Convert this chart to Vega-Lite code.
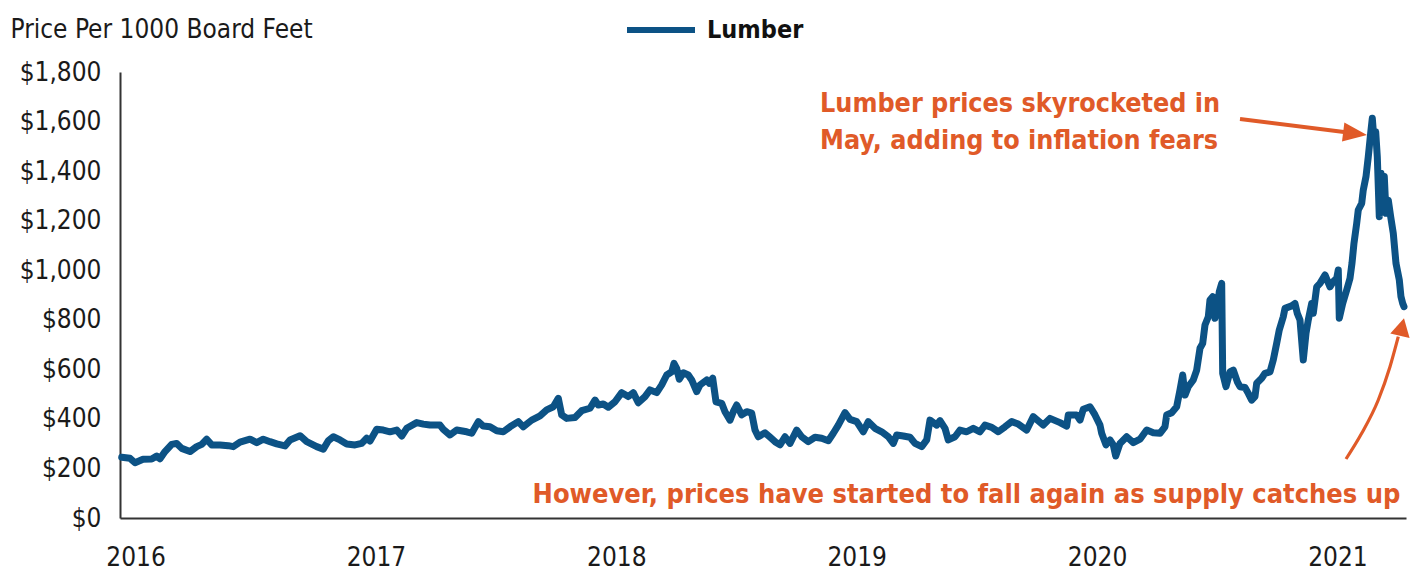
{
  "$schema": "https://vega.github.io/schema/vega-lite/v6.json",
  "autosize": {"type": "none"},
  "padding": {"left": 120, "top": 72, "right": 10, "bottom": 53},
  "width": 1286,
  "height": 446,
  "background": "white",
  "config": {
    "view": {"stroke": null},
    "font": "DejaVu Sans Condensed, sans-serif"
  },
  "datasets": {
    "lumber": [
      {"year": 2015.9426, "price": 245}, {"year": 2015.9771, "price": 241}, {"year": 2015.9979, "price": 223}, {"year": 2016.0312, "price": 237},
      {"year": 2016.0674, "price": 238}, {"year": 2016.0882, "price": 250}, {"year": 2016.1019, "price": 239}, {"year": 2016.1227, "price": 268},
      {"year": 2016.1506, "price": 297}, {"year": 2016.1714, "price": 301}, {"year": 2016.1922, "price": 281}, {"year": 2016.2267, "price": 268},
      {"year": 2016.2546, "price": 288}, {"year": 2016.2754, "price": 297}, {"year": 2016.2962, "price": 318}, {"year": 2016.3170, "price": 295},
      {"year": 2016.3515, "price": 295}, {"year": 2016.3860, "price": 292}, {"year": 2016.4068, "price": 288}, {"year": 2016.4347, "price": 306},
      {"year": 2016.4763, "price": 318}, {"year": 2016.5042, "price": 304}, {"year": 2016.5316, "price": 318}, {"year": 2016.5595, "price": 308},
      {"year": 2016.5874, "price": 299}, {"year": 2016.6219, "price": 291}, {"year": 2016.6427, "price": 315}, {"year": 2016.6843, "price": 332},
      {"year": 2016.7121, "price": 308}, {"year": 2016.7537, "price": 288}, {"year": 2016.7812, "price": 278}, {"year": 2016.8020, "price": 312},
      {"year": 2016.8228, "price": 328}, {"year": 2016.8507, "price": 315}, {"year": 2016.8785, "price": 299}, {"year": 2016.9131, "price": 295},
      {"year": 2016.9409, "price": 301}, {"year": 2016.9617, "price": 322}, {"year": 2016.9755, "price": 311}, {"year": 2017.0033, "price": 358},
      {"year": 2017.0308, "price": 355}, {"year": 2017.0586, "price": 348}, {"year": 2017.0865, "price": 355}, {"year": 2017.1073, "price": 331},
      {"year": 2017.1281, "price": 362}, {"year": 2017.1697, "price": 385}, {"year": 2017.1972, "price": 379}, {"year": 2017.2250, "price": 375},
      {"year": 2017.2666, "price": 375}, {"year": 2017.2804, "price": 358}, {"year": 2017.3082, "price": 335}, {"year": 2017.3361, "price": 355},
      {"year": 2017.3777, "price": 348}, {"year": 2017.3985, "price": 342}, {"year": 2017.4260, "price": 389}, {"year": 2017.4468, "price": 371},
      {"year": 2017.4746, "price": 368}, {"year": 2017.5025, "price": 352}, {"year": 2017.5300, "price": 348}, {"year": 2017.5578, "price": 368},
      {"year": 2017.5923, "price": 389}, {"year": 2017.6131, "price": 368}, {"year": 2017.6481, "price": 395}, {"year": 2017.6826, "price": 412},
      {"year": 2017.7105, "price": 436}, {"year": 2017.7379, "price": 449}, {"year": 2017.7587, "price": 483}, {"year": 2017.7729, "price": 416},
      {"year": 2017.7937, "price": 402}, {"year": 2017.8282, "price": 406}, {"year": 2017.8561, "price": 433}, {"year": 2017.8906, "price": 443},
      {"year": 2017.9114, "price": 476}, {"year": 2017.9251, "price": 456}, {"year": 2017.9459, "price": 460}, {"year": 2017.9667, "price": 447},
      {"year": 2017.9946, "price": 469}, {"year": 2018.0225, "price": 506}, {"year": 2018.0499, "price": 490}, {"year": 2018.0707, "price": 506},
      {"year": 2018.0915, "price": 465}, {"year": 2018.1194, "price": 490}, {"year": 2018.1402, "price": 517}, {"year": 2018.1681, "price": 506},
      {"year": 2018.1889, "price": 537}, {"year": 2018.2097, "price": 577}, {"year": 2018.2305, "price": 590}, {"year": 2018.2400, "price": 624},
      {"year": 2018.2512, "price": 604}, {"year": 2018.2621, "price": 560}, {"year": 2018.2787, "price": 586}, {"year": 2018.2995, "price": 577},
      {"year": 2018.3136, "price": 557}, {"year": 2018.3344, "price": 510}, {"year": 2018.3481, "price": 537}, {"year": 2018.3760, "price": 557},
      {"year": 2018.3869, "price": 544}, {"year": 2018.4010, "price": 564}, {"year": 2018.4147, "price": 469}, {"year": 2018.4384, "price": 463},
      {"year": 2018.4522, "price": 429}, {"year": 2018.4730, "price": 395}, {"year": 2018.4867, "price": 429}, {"year": 2018.5008, "price": 456},
      {"year": 2018.5216, "price": 416}, {"year": 2018.5424, "price": 429}, {"year": 2018.5632, "price": 423}, {"year": 2018.5770, "price": 355},
      {"year": 2018.5907, "price": 328}, {"year": 2018.6186, "price": 344}, {"year": 2018.6394, "price": 326}, {"year": 2018.6602, "price": 308},
      {"year": 2018.6810, "price": 295}, {"year": 2018.7018, "price": 328}, {"year": 2018.7226, "price": 301}, {"year": 2018.7504, "price": 355},
      {"year": 2018.7712, "price": 328}, {"year": 2018.7987, "price": 308}, {"year": 2018.8266, "price": 326}, {"year": 2018.8544, "price": 322},
      {"year": 2018.8819, "price": 312}, {"year": 2018.9027, "price": 342}, {"year": 2018.9235, "price": 375}, {"year": 2018.9513, "price": 425},
      {"year": 2018.9721, "price": 398}, {"year": 2019.0000, "price": 389}, {"year": 2019.0275, "price": 348}, {"year": 2019.0483, "price": 389},
      {"year": 2019.0761, "price": 362}, {"year": 2019.1040, "price": 348}, {"year": 2019.1314, "price": 328}, {"year": 2019.1522, "price": 301},
      {"year": 2019.1664, "price": 335}, {"year": 2019.1938, "price": 331}, {"year": 2019.2217, "price": 326}, {"year": 2019.2425, "price": 301},
      {"year": 2019.2704, "price": 288}, {"year": 2019.2912, "price": 315}, {"year": 2019.3049, "price": 395}, {"year": 2019.3328, "price": 375},
      {"year": 2019.3465, "price": 393}, {"year": 2019.3673, "price": 362}, {"year": 2019.3810, "price": 315}, {"year": 2019.4089, "price": 328},
      {"year": 2019.4297, "price": 355}, {"year": 2019.4576, "price": 348}, {"year": 2019.4850, "price": 362}, {"year": 2019.5129, "price": 348},
      {"year": 2019.5337, "price": 375}, {"year": 2019.5616, "price": 366}, {"year": 2019.5890, "price": 348}, {"year": 2019.6169, "price": 368},
      {"year": 2019.6448, "price": 389}, {"year": 2019.6722, "price": 379}, {"year": 2019.7072, "price": 355}, {"year": 2019.7346, "price": 409},
      {"year": 2019.7762, "price": 375}, {"year": 2019.8041, "price": 402}, {"year": 2019.8457, "price": 385}, {"year": 2019.8735, "price": 371},
      {"year": 2019.8802, "price": 416}, {"year": 2019.9151, "price": 416}, {"year": 2019.9289, "price": 395}, {"year": 2019.9426, "price": 439},
      {"year": 2019.9705, "price": 449}, {"year": 2019.9913, "price": 416}, {"year": 2020.0121, "price": 375}, {"year": 2020.0191, "price": 342},
      {"year": 2020.0370, "price": 295}, {"year": 2020.0537, "price": 315}, {"year": 2020.0674, "price": 295}, {"year": 2020.0774, "price": 250},
      {"year": 2020.0953, "price": 301}, {"year": 2020.1231, "price": 328}, {"year": 2020.1506, "price": 304}, {"year": 2020.1785, "price": 318},
      {"year": 2020.2063, "price": 355}, {"year": 2020.2338, "price": 344}, {"year": 2020.2616, "price": 342}, {"year": 2020.2824, "price": 368},
      {"year": 2020.2895, "price": 416}, {"year": 2020.3103, "price": 425}, {"year": 2020.3311, "price": 449}, {"year": 2020.3449, "price": 517},
      {"year": 2020.3561, "price": 577}, {"year": 2020.3657, "price": 496}, {"year": 2020.3794, "price": 530}, {"year": 2020.4002, "price": 557},
      {"year": 2020.4143, "price": 597}, {"year": 2020.4281, "price": 685}, {"year": 2020.4393, "price": 705}, {"year": 2020.4488, "price": 779},
      {"year": 2020.4626, "price": 812}, {"year": 2020.4696, "price": 880}, {"year": 2020.4809, "price": 893}, {"year": 2020.4904, "price": 806},
      {"year": 2020.5000, "price": 846}, {"year": 2020.5083, "price": 913}, {"year": 2020.5183, "price": 947}, {"year": 2020.5225, "price": 584},
      {"year": 2020.5362, "price": 530}, {"year": 2020.5528, "price": 590}, {"year": 2020.5666, "price": 597}, {"year": 2020.5832, "price": 550},
      {"year": 2020.5944, "price": 530}, {"year": 2020.6152, "price": 527}, {"year": 2020.6290, "price": 503}, {"year": 2020.6431, "price": 476},
      {"year": 2020.6568, "price": 490}, {"year": 2020.6639, "price": 544}, {"year": 2020.6847, "price": 564}, {"year": 2020.6985, "price": 584},
      {"year": 2020.7193, "price": 590}, {"year": 2020.7330, "price": 638}, {"year": 2020.7471, "price": 705}, {"year": 2020.7579, "price": 759},
      {"year": 2020.7745, "price": 812}, {"year": 2020.7816, "price": 846}, {"year": 2020.8095, "price": 856}, {"year": 2020.8232, "price": 866},
      {"year": 2020.8328, "price": 826}, {"year": 2020.8440, "price": 799}, {"year": 2020.8577, "price": 638}, {"year": 2020.8690, "price": 745},
      {"year": 2020.8785, "price": 799}, {"year": 2020.8927, "price": 866}, {"year": 2020.8993, "price": 826}, {"year": 2020.9135, "price": 933},
      {"year": 2020.9272, "price": 947}, {"year": 2020.9480, "price": 981}, {"year": 2020.9688, "price": 933}, {"year": 2020.9825, "price": 954},
      {"year": 2020.9967, "price": 967}, {"year": 2021.0033, "price": 1001}, {"year": 2021.0075, "price": 806}, {"year": 2021.0216, "price": 866},
      {"year": 2021.0383, "price": 920}, {"year": 2021.0520, "price": 967}, {"year": 2021.0603, "price": 1028}, {"year": 2021.0686, "price": 1109},
      {"year": 2021.0799, "price": 1189}, {"year": 2021.0865, "price": 1243}, {"year": 2021.1007, "price": 1270}, {"year": 2021.1073, "price": 1324},
      {"year": 2021.1186, "price": 1378}, {"year": 2021.1281, "price": 1458}, {"year": 2021.1381, "price": 1553}, {"year": 2021.1448, "price": 1613},
      {"year": 2021.1518, "price": 1526}, {"year": 2021.1589, "price": 1559}, {"year": 2021.1656, "price": 1458}, {"year": 2021.1739, "price": 1216},
      {"year": 2021.1810, "price": 1391}, {"year": 2021.1880, "price": 1324}, {"year": 2021.1947, "price": 1378}, {"year": 2021.2018, "price": 1230},
      {"year": 2021.2113, "price": 1283}, {"year": 2021.2213, "price": 1216}, {"year": 2021.2321, "price": 1149}, {"year": 2021.2433, "price": 1028},
      {"year": 2021.2571, "price": 961}, {"year": 2021.2641, "price": 893}, {"year": 2021.2712, "price": 866}, {"year": 2021.2766, "price": 853}
    ],
    "curve": [
      {"year": 2021.0354, "price": 238.1}, {"year": 2021.1007, "price": 341.8}, {"year": 2021.1697, "price": 476.2},
      {"year": 2021.2184, "price": 610.6}, {"year": 2021.2529, "price": 731.7}
    ],
    "note": [{"k": 1}]
  },
  "layer": [
    {
      "data": {"name": "lumber"},
      "mark": {"type": "line", "strokeWidth": 7, "strokeJoin": "round", "strokeCap": "round"},
      "encoding": {
        "x": {
          "field": "year", "type": "quantitative",
          "scale": {"domain": [2015.9355, 2021.285], "nice": false, "zero": false},
          "axis": {
            "title": null, "values": [2016, 2017, 2018, 2019, 2020, 2021], "format": "d",
            "grid": false, "ticks": false, "tickSize": 0, "labelFlush": false,
            "labelFontSize": 26, "labelColor": "#1a1a1a", "labelBaseline": "alphabetic", "labelPadding": 47,
            "domainColor": "#333333", "domainWidth": 2
          }
        },
        "y": {
          "field": "price", "type": "quantitative",
          "scale": {"domain": [0, 1800], "nice": false},
          "axis": {
            "title": "Price Per 1000 Board Feet", "titleAngle": 0, "titleAlign": "left", "titleBaseline": "alphabetic",
            "titleX": -110, "titleY": -35, "titleFontSize": 26, "titleFontWeight": "normal", "titleColor": "#1a1a1a",
            "values": [0, 200, 400, 600, 800, 1000, 1200, 1400, 1600, 1800], "format": "$,.0f",
            "grid": false, "ticks": false, "tickSize": 0, "labelFlush": false,
            "labelFontSize": 26, "labelColor": "#1a1a1a", "labelPadding": 19,
            "domainColor": "#333333", "domainWidth": 2
          }
        },
        "color": {
          "datum": "Lumber",
          "scale": {"range": ["#0c5285"]},
          "legend": {
            "title": null, "orient": "none", "legendX": 504, "legendY": -79, "padding": 0,
            "symbolType": "stroke", "symbolSize": 4624, "symbolStrokeWidth": 6,
            "labelFontSize": 25, "labelFontWeight": "bold", "labelColor": "#111111", "labelOffset": 9
          }
        }
      }
    },
    {
      "data": {"name": "curve"},
      "mark": {"type": "line", "interpolate": "monotone", "color": "#e05a28", "strokeWidth": 3.2},
      "encoding": {
        "x": {"field": "year", "type": "quantitative"},
        "y": {"field": "price", "type": "quantitative"}
      }
    },
    {
      "data": {"name": "note"},
      "mark": {"type": "rule", "color": "#e05a28", "strokeWidth": 4},
      "encoding": {
        "x": {"datum": 2020.5944, "type": "quantitative"},
        "y": {"datum": 1610.3, "type": "quantitative"},
        "x2": {"datum": 2021.0603},
        "y2": {"datum": 1553.4}
      }
    },
    {
      "data": {"name": "note"},
      "mark": {"type": "point", "shape": "M0,0L-2,-0.8L-2,0.8Z", "size": 576, "filled": true, "color": "#e05a28", "opacity": 1, "strokeWidth": 0, "angle": 7.2},
      "encoding": {
        "x": {"datum": 2021.1227, "type": "quantitative"},
        "y": {"datum": 1545.7, "type": "quantitative"}
      }
    },
    {
      "data": {"name": "note"},
      "mark": {"type": "point", "shape": "M0,0L-2,-1.1L-2,1.1Z", "size": 324, "filled": true, "color": "#e05a28", "opacity": 1, "strokeWidth": 0, "angle": -77},
      "encoding": {
        "x": {"datum": 2021.2766, "type": "quantitative"},
        "y": {"datum": 806.0, "type": "quantitative"}
      }
    },
    {
      "data": {"name": "note"},
      "mark": {"type": "text", "text": ["Lumber prices skyrocketed in", "May, adding to inflation fears"], "align": "left", "baseline": "alphabetic", "lineHeight": 37, "fontSize": 26.7, "fontWeight": "bold", "color": "#e05a28"},
      "encoding": {
        "x": {"datum": 2018.8474, "type": "quantitative"},
        "y": {"datum": 1638.6, "type": "quantitative"}
      }
    },
    {
      "data": {"name": "note"},
      "mark": {"type": "text", "text": "However, prices have started to fall again as supply catches up", "align": "center", "baseline": "alphabetic", "fontSize": 27, "fontWeight": "bold", "color": "#e05a28"},
      "encoding": {
        "x": {"datum": 2019.4567, "type": "quantitative"},
        "y": {"datum": 62, "type": "quantitative"}
      }
    }
  ]
}
